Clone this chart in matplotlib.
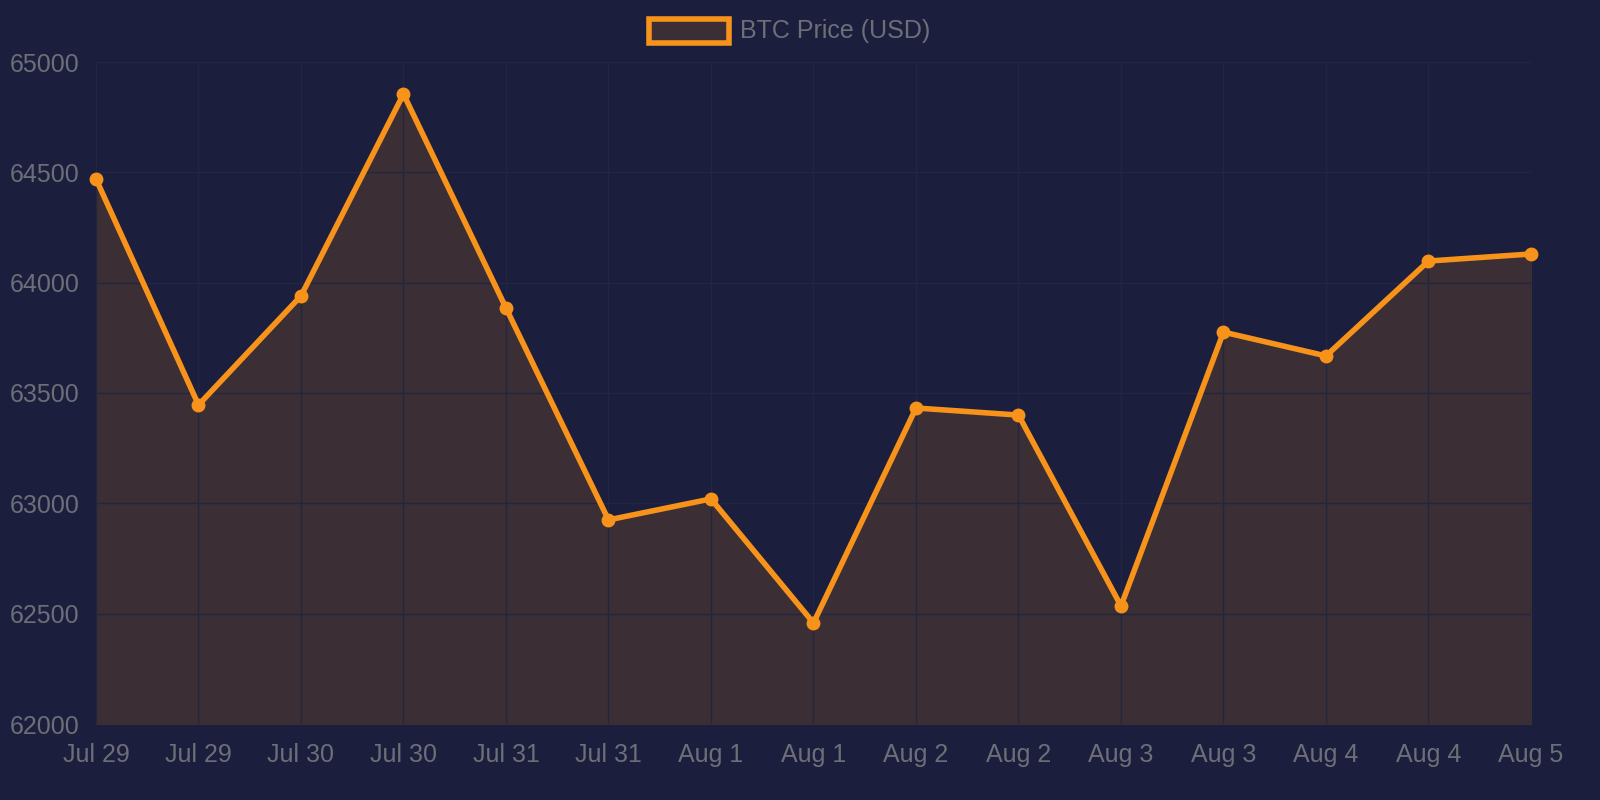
import matplotlib
matplotlib.use("Agg")
import matplotlib.pyplot as plt

plt.rcParams["font.family"] = ["Liberation Sans", "DejaVu Sans"]

labels = ["Jul 29", "Jul 29", "Jul 30", "Jul 30", "Jul 31", "Jul 31", "Aug 1", "Aug 1",
          "Aug 2", "Aug 2", "Aug 3", "Aug 3", "Aug 4", "Aug 4", "Aug 5"]
prices = [64470, 63446, 63940, 64855, 63885, 62925, 63020, 62458,
          63432, 63400, 62535, 63776, 63668, 64098, 64130]

BG = "#1b1e3d"
LINE = "#f7931a"
FILL = "#3b2e35"
TXT = "#6e6e78"

fig = plt.figure(figsize=(16, 8), dpi=100, facecolor=BG)
ax = fig.add_axes([96 / 1600, 1 - 724 / 800, (1531 - 96) / 1600, (724 - 62) / 800])
ax.set_facecolor(BG)

x = list(range(len(prices)))
ax.fill_between(x, prices, 62000, color=FILL, zorder=1)
ax.plot(x, prices, color=LINE, lw=4, marker="o", ms=9, zorder=3, clip_on=False)

ax.set_xlim(0, len(prices) - 1)
ax.set_ylim(62000, 65000)
ax.set_yticks(range(62000, 65001, 500))
ax.set_xticks(x)
ax.set_xticklabels(labels)
ax.grid(True, color="#23263f", lw=1, zorder=0)
for s in ax.spines.values():
    s.set_visible(False)
ax.tick_params(colors=TXT, labelsize=18, length=0)
ax.tick_params(axis="x", pad=14)
for t in ax.get_yticklabels():
    t.set_horizontalalignment("left")
ax.tick_params(axis="y", pad=62)

# legend
fig.patches.append(plt.Rectangle((649 / 1600, 1 - 43 / 800), 80 / 1600, 24 / 800,
                                 transform=fig.transFigure, facecolor=FILL,
                                 edgecolor=LINE, lw=4))
fig.text(740 / 1600, 1 - 31 / 800, "BTC Price (USD)", color=TXT, fontsize=18, va="center")

fig.savefig("out.png", dpi=100, facecolor=BG)
